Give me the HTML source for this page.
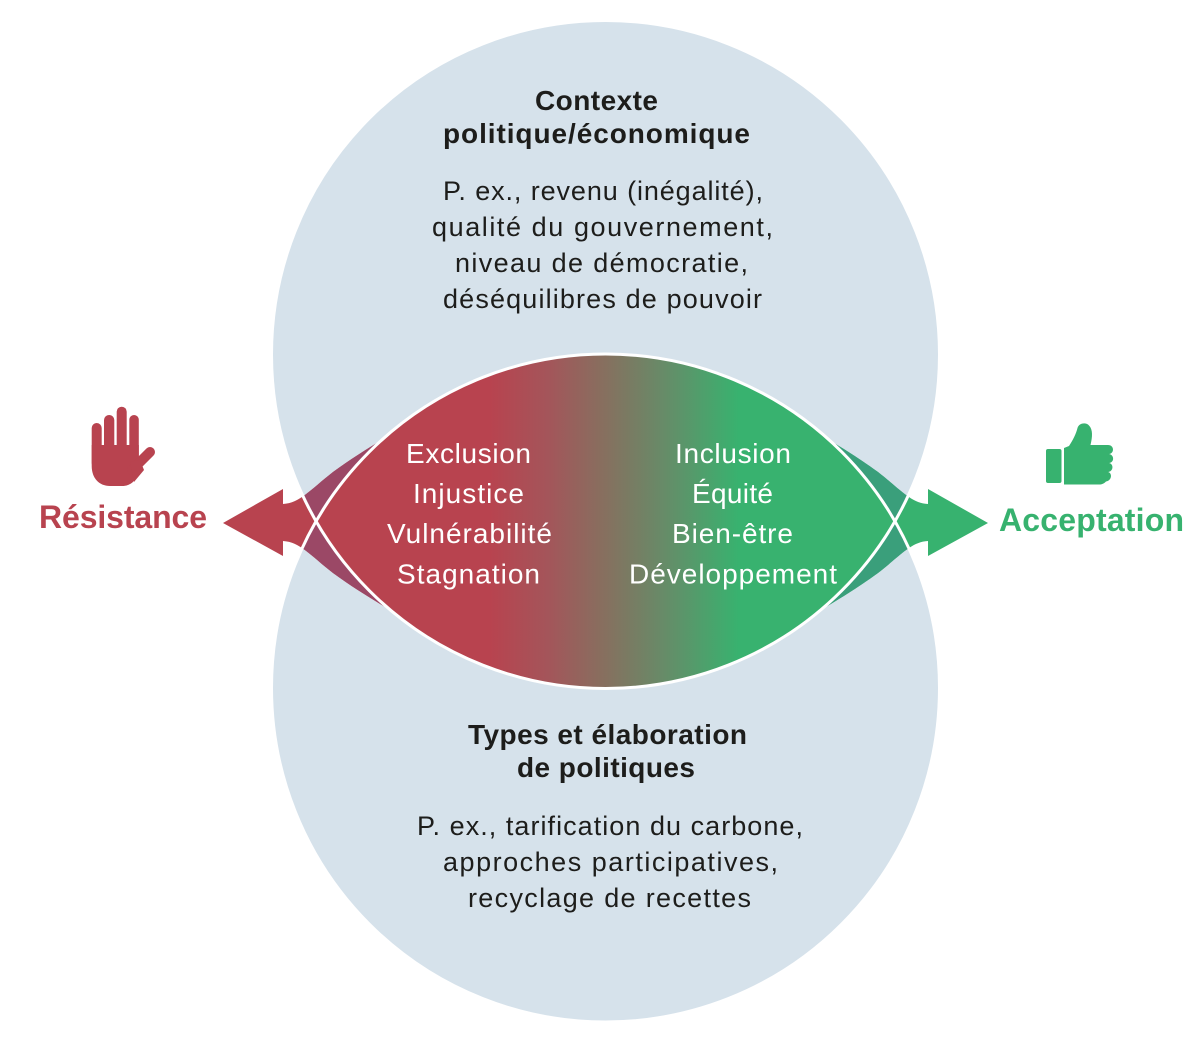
<!DOCTYPE html>
<html>
<head>
<meta charset="utf-8">
<style>
html,body{margin:0;padding:0;background:#fff;}
svg{display:block;}
text{font-family:"Liberation Sans",Arial,sans-serif;}
</style>
</head>
<body>
<svg width="1200" height="1039" viewBox="0 0 1200 1039" xmlns="http://www.w3.org/2000/svg">
  <defs>
    <clipPath id="cc">
      <circle cx="605.5" cy="354.5" r="334"/>
      <circle cx="605.5" cy="688" r="334"/>
    </clipPath>
    <linearGradient id="lg" gradientUnits="userSpaceOnUse" x1="316" y1="0" x2="895" y2="0">
      <stop offset="0" stop-color="#b8434f"/>
      <stop offset="0.30" stop-color="#b8434f"/>
      <stop offset="0.40" stop-color="#a4555a"/>
      <stop offset="0.50" stop-color="#86705f"/>
      <stop offset="0.60" stop-color="#678b68"/>
      <stop offset="0.73" stop-color="#38b26f"/>
      <stop offset="1" stop-color="#38b26f"/>
    </linearGradient>
  </defs>

  <!-- circles -->
  <circle cx="605.5" cy="354.5" r="334" fill="#d6e2eb"/>
  <circle cx="605.5" cy="688" r="334" fill="#d6e2eb"/>

  <!-- arrows (light) -->
  <path d="M223,523 L283,489 L283,504 C300,503 310,490 333,472 C355,456 372,446 395,432 L470,470 L470,575 L395,613 C372,599 355,589 333,573 C310,555 300,542 283,541 L283,556 Z" fill="#b8434f"/>
  <path d="M988,523 L928,489 L928,504 C911,503 901,490 878,472 C856,456 839,446 816,432 L741,470 L741,575 L816,613 C839,599 856,589 878,573 C901,555 911,542 928,541 L928,556 Z" fill="#37b26f"/>

  <!-- arrows over circles (dark) -->
  <g clip-path="url(#cc)">
    <path d="M223,523 L283,489 L283,504 C300,503 310,490 333,472 C355,456 372,446 395,432 L470,470 L470,575 L395,613 C372,599 355,589 333,573 C310,555 300,542 283,541 L283,556 Z" fill="#9b4866"/>
    <path d="M988,523 L928,489 L928,504 C911,503 901,490 878,472 C856,456 839,446 816,432 L741,470 L741,575 L816,613 C839,599 856,589 878,573 C901,555 911,542 928,541 L928,556 Z" fill="#3a9f7b"/>
  </g>

  <!-- lens -->
  <path d="M316.1,521.25 A334,334 0 0,1 894.9,521.25 A334,334 0 0,1 316.1,521.25 Z" fill="url(#lg)"/>

  <!-- white outlines -->
  <circle cx="605.5" cy="354.5" r="334" fill="none" stroke="#fff" stroke-width="3"/>
  <circle cx="605.5" cy="688" r="334" fill="none" stroke="#fff" stroke-width="3"/>

  <!-- hand icon -->
  <g fill="#b8434f">
    <rect x="91.7" y="423" width="10" height="45" rx="5"/>
    <rect x="104" y="415" width="10.3" height="50" rx="5"/>
    <rect x="116.7" y="406.7" width="10" height="55" rx="5"/>
    <rect x="129.3" y="415" width="9.5" height="50" rx="4.75"/>
    <path d="M91.7,445 L138.8,445 L138.8,468 C138.8,478 132,486 122,486 L110,486 C99,486 91.7,478 91.7,466 Z"/>
    <path d="M132,470 L150,452" stroke="#b8434f" stroke-width="10" stroke-linecap="round"/>
    <path d="M130,462 L140,460 L144,470 L134,482 Z"/>
  </g>

  <!-- thumbs up icon -->
  <g fill="#37b26f">
    <rect x="1046" y="449" width="15.5" height="34" rx="2"/>
    <path d="M1064,448 L1069,446 C1073,440 1076,434 1077.5,428 C1079,423 1086,422 1089,425.5 C1093,429.5 1092.5,437 1090.5,445 L1108,445 C1114.5,445 1114.5,453.5 1109,454 C1114.5,455 1114.5,462.5 1109,463 C1114,464 1113.5,471.5 1108,472 C1112.5,473 1112,480.5 1106,481.5 C1104,483.5 1102,484.5 1099,484.5 L1064,484.5 Z"/>
  </g>

  <!-- side labels -->
  <text x="39" y="528" font-size="32" font-weight="bold" fill="#b8434f" textLength="168">Résistance</text>
  <text x="999" y="531" font-size="32" font-weight="bold" fill="#37b26f" textLength="185">Acceptation</text>

  <!-- circle text -->
  <g fill="#1d1d1b">
    <text x="535" y="110" font-size="28" font-weight="bold" textLength="123">Contexte</text>
    <text x="443" y="143" font-size="28" font-weight="bold" textLength="307">politique/économique</text>
    <text x="443" y="200" font-size="27" textLength="320">P. ex., revenu (inégalité),</text>
    <text x="432" y="236" font-size="27" textLength="341">qualité du gouvernement,</text>
    <text x="455" y="272" font-size="27" textLength="293">niveau de démocratie,</text>
    <text x="443" y="308" font-size="27" textLength="319">déséquilibres de pouvoir</text>

    <text x="468" y="744" font-size="28" font-weight="bold" textLength="279">Types et élaboration</text>
    <text x="517" y="777" font-size="28" font-weight="bold" textLength="178">de politiques</text>
    <text x="417" y="835" font-size="27" textLength="386">P. ex., tarification du carbone,</text>
    <text x="443" y="871" font-size="27" textLength="335">approches participatives,</text>
    <text x="468" y="907" font-size="27" textLength="283">recyclage de recettes</text>
  </g>

  <!-- lens text -->
  <g fill="#ffffff">
    <text x="406" y="463" font-size="28" textLength="125">Exclusion</text>
    <text x="413" y="503" font-size="28" textLength="111">Injustice</text>
    <text x="387" y="543" font-size="28" textLength="165">Vulnérabilité</text>
    <text x="397" y="583.5" font-size="28" textLength="143">Stagnation</text>
    <text x="675" y="463" font-size="28" textLength="116">Inclusion</text>
    <text x="692" y="503" font-size="28" textLength="81">Équité</text>
    <text x="672" y="543" font-size="28" textLength="121">Bien-être</text>
    <text x="629" y="583.5" font-size="28" textLength="208">Développement</text>
  </g>
</svg>
</body>
</html>
